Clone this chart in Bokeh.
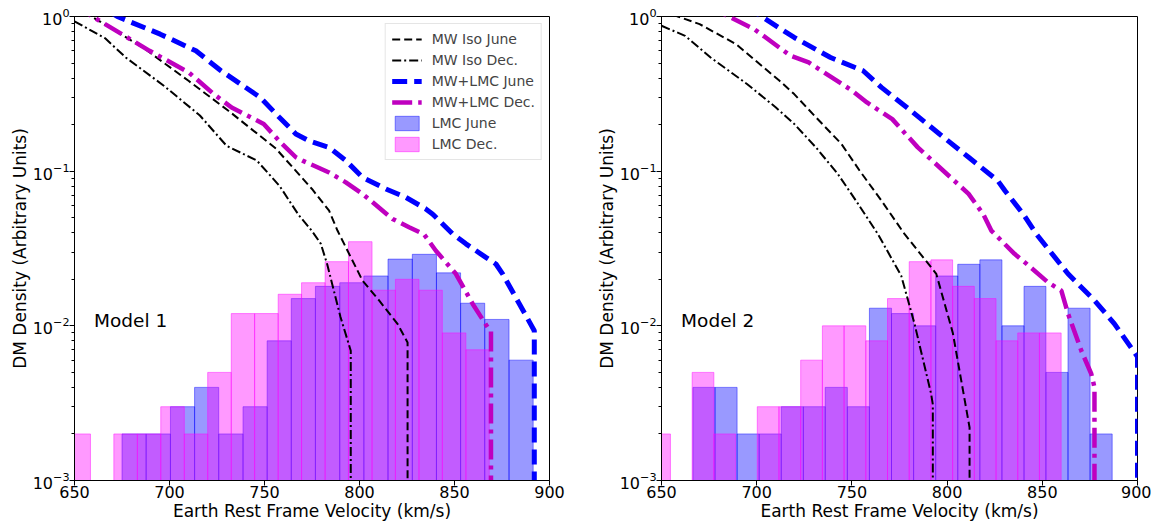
import numpy as np
from bokeh.plotting import figure
from bokeh.models import Range1d, FixedTicker, Legend, LegendItem
from bokeh.layouts import row
from bokeh.embed import file_html
from bokeh.resources import INLINE
from bokeh.core.properties import value

FONT = "DejaVu Sans"
DROP = 1e-4  # below the axis floor: the curves fall off the bottom

# ---------------- tick labels ----------------
x_ticks = [650, 700, 750, 800, 850, 900]

# ---------------- Model 1 (left) ----------------
m1_iso_june_v = [650, 659, 686, 710, 731, 756, 775, 784, 788.4, 801.6, 810.3, 820, 825.3, 825.3]
m1_iso_june_d = [1.2, 1.0, 0.63, 0.384, 0.246, 0.14, 0.0767, 0.0555, 0.0413, 0.0196, 0.0146, 0.0103, 0.0078, DROP]

m1_iso_dec_v = [650, 666, 677, 697, 716, 730, 746, 758, 768, 775, 779.6, 783, 790, 795.4, 795.4]
m1_iso_dec_d = [0.93, 0.725, 0.543, 0.357, 0.229, 0.146, 0.117, 0.08, 0.052, 0.041, 0.034, 0.025, 0.0114, 0.0069, DROP]

m1_lmc_june_v = [650, 672.5, 695.1, 713.9, 727.1, 747.7, 757.5, 766.5, 773.5, 784, 792.8, 801.6, 813.9,
                 824.4, 834.9, 838.4, 849, 856, 866.5, 871.8, 875.3, 884.1, 892, 892]
m1_lmc_june_d = [1.5, 1.0, 0.769, 0.6, 0.446, 0.3, 0.225, 0.174, 0.157, 0.1425, 0.117, 0.0912, 0.0767,
                 0.0677, 0.057, 0.0529, 0.0393, 0.0339, 0.0277, 0.0251, 0.0217, 0.0139, 0.0093, DROP]

m1_lmc_dec_v = [650, 659.4, 689.5, 710.1, 723.3, 732.7, 749.6, 757.7, 766.5, 770, 784, 792.8, 801.6,
                817.4, 826.1, 834, 840.2, 850.7, 859.5, 867.4, 869.2, 869.2]
m1_lmc_dec_d = [1.2, 1.0, 0.6, 0.435, 0.315, 0.258, 0.202, 0.157, 0.123, 0.117, 0.098, 0.0847, 0.0713,
                0.0491, 0.0434, 0.039, 0.0306, 0.0217, 0.0139, 0.0098, 0.0093, DROP]

m1_hist_june_edges = [675.0, 687.7, 700.5, 713.2, 725.9, 738.7, 751.4, 764.1, 776.8, 789.6, 802.3,
                      815.0, 827.8, 840.5, 853.2, 865.9, 878.7, 891.4]
m1_hist_june_h = [0.002, 0.002, 0.003, 0.004, 0.002, 0.003, 0.008, 0.015, 0.018, 0.019, 0.021,
                  0.027, 0.029, 0.022, 0.014, 0.011, 0.006]

m1_hist_dec_edges = [646.0, 658.4, 670.7, 683.1, 695.4, 707.8, 720.1, 732.5, 744.8, 757.2, 769.5,
                     781.9, 794.2, 806.6, 818.9, 831.3, 843.6, 856.0, 868.3]
m1_hist_dec_h = [0.002, 0.0, 0.002, 0.002, 0.003, 0.002, 0.005, 0.012, 0.012, 0.016, 0.019,
                 0.026, 0.035, 0.017, 0.020, 0.017, 0.009, 0.007]

# ---------------- Model 2 (right) ----------------
m2_iso_june_v = [650, 658.6, 670, 689.1, 712, 719.7, 731.1, 744.5, 754, 765.5, 777.6, 794.3, 803, 811.8, 811.8]
m2_iso_june_d = [1.1, 1.0, 0.893, 0.663, 0.384, 0.315, 0.223, 0.15, 0.101, 0.0645, 0.0393, 0.0217, 0.009, 0.0022, DROP]

m2_iso_dec_v = [650, 662.4, 675.8, 694.9, 710.1, 719.7, 731.1, 742.6, 752.1, 763.6, 775.9, 782.9, 791.6, 792.5, 792.5]
m2_iso_dec_d = [0.871, 0.75, 0.543, 0.366, 0.258, 0.202, 0.1425, 0.096, 0.0645, 0.0393, 0.0211, 0.0103, 0.00364, 0.0031, DROP]

m2_lmc_june_v = [685, 702.5, 719.7, 738.8, 755.9, 765.5, 778.9, 796, 811.3, 826.6, 830.4, 839.9, 846.8,
                 863.5, 877.4, 887.9, 900, 900]
m2_lmc_june_d = [1.37, 1.0, 0.732, 0.543, 0.446, 0.348, 0.258, 0.174, 0.123, 0.0868, 0.0748, 0.0529, 0.0393,
                 0.0217, 0.0146, 0.0103, 0.0063, DROP]

m2_lmc_dec_v = [670, 685.3, 698.7, 717.8, 727.3, 750.2, 757.9, 771.2, 784.6, 805.6, 811.3, 818.9, 823.2,
                835.4, 840.7, 853, 860, 863.5, 870.5, 875.7, 877.4, 877.4]
m2_lmc_dec_d = [1.24, 1.0, 0.829, 0.557, 0.505, 0.331, 0.278, 0.217, 0.1425, 0.0827, 0.0713, 0.0529, 0.0413,
                0.0292, 0.0258, 0.0191, 0.0169, 0.012, 0.0069, 0.0049, 0.004, DROP]

m2_hist_june_edges = [666.5, 678.1, 689.7, 701.3, 712.9, 724.5, 736.0, 747.6, 759.2, 770.8, 782.4,
                      794.0, 805.6, 817.2, 828.8, 840.4, 851.9, 863.5, 875.1, 886.7]
m2_hist_june_h = [0.004, 0.004, 0.002, 0.002, 0.003, 0.003, 0.004, 0.003, 0.013, 0.012, 0.010,
                  0.021, 0.025, 0.0267, 0.010, 0.018, 0.005, 0.013, 0.002]

m2_hist_dec_edges = [643.3, 654.7, 666.1, 677.5, 688.9, 700.3, 711.7, 723.1, 734.5, 745.9, 757.3,
                     768.7, 780.1, 791.5, 802.9, 814.3, 825.7, 837.1, 848.5, 859.9]
m2_hist_dec_h = [0.002, 0.0, 0.005, 0.002, 0.0, 0.003, 0.003, 0.006, 0.010, 0.010, 0.008,
                 0.015, 0.026, 0.0267, 0.018, 0.015, 0.008, 0.009, 0.009]

legend_labels = ["MW Iso June", "MW Iso Dec.", "MW+LMC June", "MW+LMC Dec.", "LMC June", "LMC Dec."]
MAGENTA = "#bf00bf"


def hist(p, edges, heights, color):
    e = np.asarray(edges)
    h = np.asarray(heights)
    keep = h > 0
    return p.quad(left=e[:-1][keep], right=e[1:][keep], top=h[keep], bottom=DROP,
                  fill_color=color, fill_alpha=0.4, line_color=color, line_alpha=0.45, line_width=1)


def panel(data, model_text, frame_w, left_b, right_b, show_legend):
    p = figure(x_range=Range1d(650, 900), y_range=Range1d(1e-3, 1), y_axis_type="log",
               frame_width=frame_w, frame_height=464, output_backend="svg", toolbar_location=None,
               min_border_left=left_b, min_border_right=right_b, min_border_top=16, min_border_bottom=38,
               background_fill_color="white", border_fill_color="white")
    p.grid.visible = False
    p.outline_line_color = "black"
    p.outline_line_alpha = 1
    p.outline_line_width = 1

    rj = hist(p, data["hj_e"], data["hj_h"], "blue")
    rd = hist(p, data["hd_e"], data["hd_h"], "magenta")

    r1 = p.line(data["ij_v"], data["ij_d"], line_color="black", line_width=2, line_dash="8 4")
    r2 = p.line(data["id_v"], data["id_d"], line_color="black", line_width=2, line_dash="9 3 2 3")
    r3 = p.line(data["lj_v"], data["lj_d"], line_color="blue", line_width=5, line_dash="15 7")
    r4 = p.line(data["ld_v"], data["ld_d"], line_color=MAGENTA, line_width=4.5, line_dash="20 6 4 6")

    p.text(x=[660.3], y=[0.0108], text=[model_text], text_font=value(FONT), text_font_size="18.5px",
           text_baseline="middle", text_align="left", text_color="black")

    for ax in (p.xaxis[0], p.yaxis[0]):
        ax.axis_line_color = "black"
        ax.major_tick_line_color = "black"
        ax.minor_tick_line_color = "black"
        ax.major_tick_in = 0
        ax.major_tick_out = 5
        ax.minor_tick_in = 0
        ax.minor_tick_out = 3
        ax.major_label_text_font = FONT
        ax.major_label_text_font_size = "16px"
        ax.major_label_text_color = "black"
        ax.axis_label_text_font = FONT
        ax.axis_label_text_font_size = "17px"
        ax.axis_label_text_font_style = "normal"
        ax.axis_label_text_color = "black"
        ax.major_label_standoff = 0
        ax.axis_label_standoff = 0
    p.xaxis.ticker = FixedTicker(ticks=x_ticks)
    p.xaxis.minor_tick_line_color = None
    p.xaxis.axis_label = "Earth Rest Frame Velocity (km/s)"
    p.yaxis.axis_label = "DM Density (Arbitrary Units)"

    if show_legend:
        items = [LegendItem(label=lab, renderers=[r]) for lab, r in
                 zip(legend_labels, [r1, r2, r3, r4, rj, rd])]
        leg = Legend(items=items, location="top_right")
        leg.label_text_font = FONT
        leg.label_text_font_size = "14px"
        leg.glyph_width = 30
        leg.glyph_height = 18
        leg.label_height = 18
        leg.label_standoff = 10
        leg.spacing = 3
        leg.padding = 6
        leg.margin = 7
        leg.border_line_color = "#cccccc"
        leg.border_line_width = 1
        leg.background_fill_alpha = 0.8
        p.add_layout(leg)
    return p


d1 = dict(ij_v=m1_iso_june_v, ij_d=m1_iso_june_d, id_v=m1_iso_dec_v, id_d=m1_iso_dec_d,
          lj_v=m1_lmc_june_v, lj_d=m1_lmc_june_d, ld_v=m1_lmc_dec_v, ld_d=m1_lmc_dec_d,
          hj_e=m1_hist_june_edges, hj_h=m1_hist_june_h, hd_e=m1_hist_dec_edges, hd_h=m1_hist_dec_h)
d2 = dict(ij_v=m2_iso_june_v, ij_d=m2_iso_june_d, id_v=m2_iso_dec_v, id_d=m2_iso_dec_d,
          lj_v=m2_lmc_june_v, lj_d=m2_lmc_june_d, ld_v=m2_lmc_dec_v, ld_d=m2_lmc_dec_d,
          hj_e=m2_hist_june_edges, hj_h=m2_hist_june_h, hd_e=m2_hist_dec_edges, hd_h=m2_hist_dec_h)

p1 = panel(d1, "Model 1", 475, 74, 43, True)
p2 = panel(d2, "Model 2", 476, 69, 14, False)

layout = row(p1, p2, spacing=0)
open("out.html", "w").write(file_html(layout, INLINE))
